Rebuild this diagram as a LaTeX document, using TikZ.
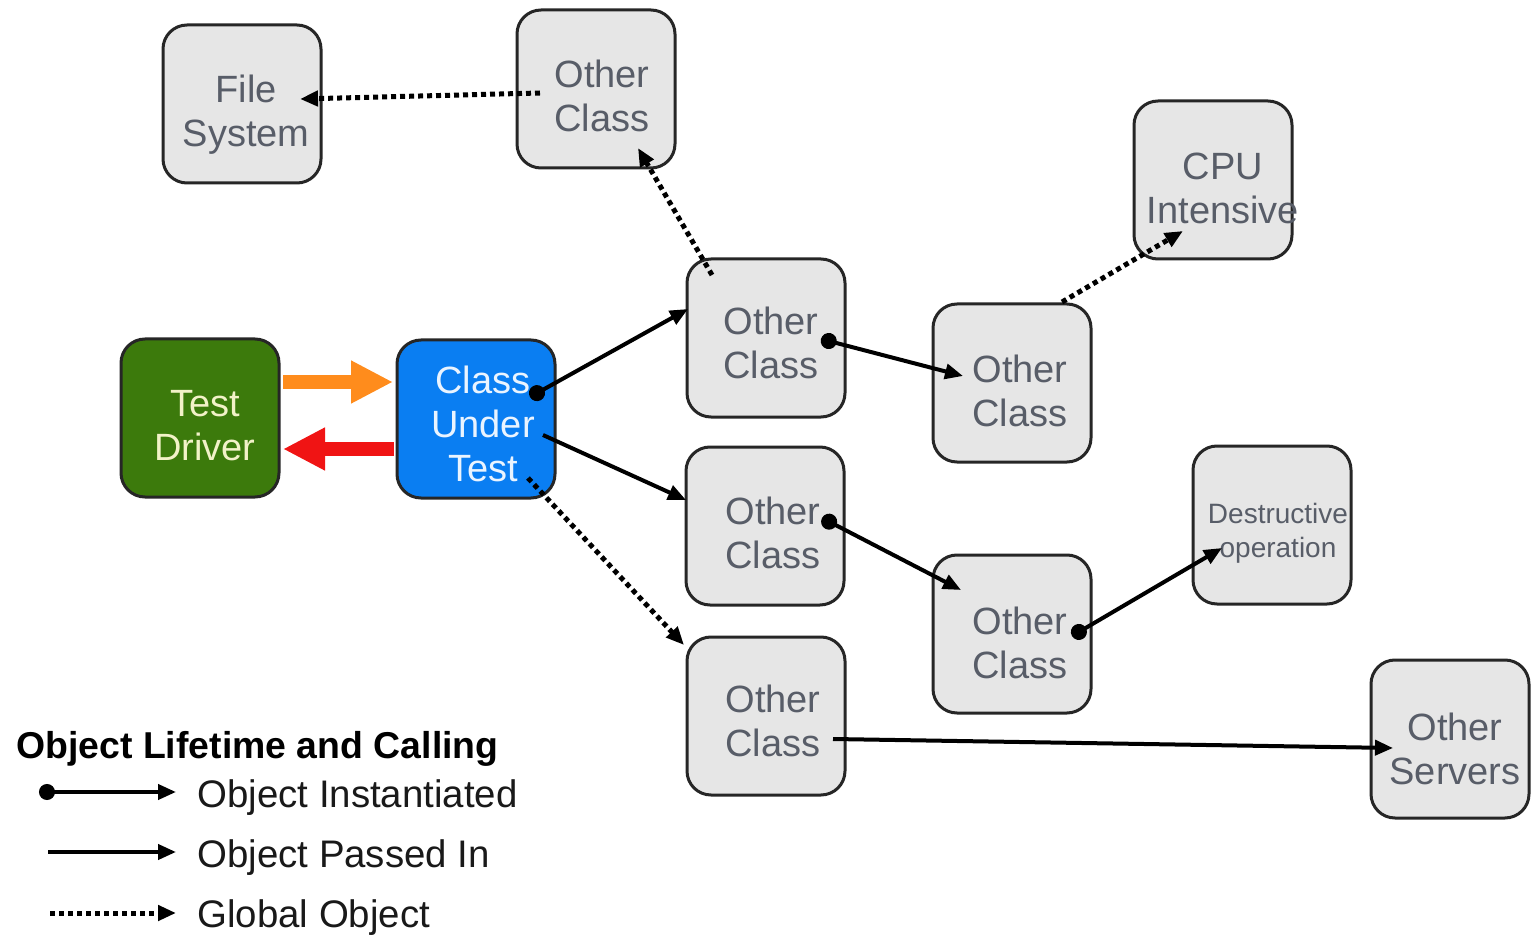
\documentclass[tikz,border=0pt]{standalone}
\usepackage{fontspec}
\setmainfont{Liberation Sans}
\usetikzlibrary{arrows.meta,calc}
\definecolor{boxgray}{HTML}{E6E6E6}
\definecolor{boxtext}{HTML}{585D68}
\definecolor{drivergreen}{HTML}{3C7A0C}
\definecolor{drivertext}{HTML}{F2F2C8}
\definecolor{cutblue}{HTML}{0A7EF2}
\definecolor{cuttext}{HTML}{EAF4FF}
\definecolor{callorange}{HTML}{FF8C1C}
\definecolor{returnred}{HTML}{F01414}
\begin{document}
\begin{tikzpicture}[x=0.5pt,y=-0.5pt,
  box/.style={draw=black!85, line width=1.5pt, rounded corners=12pt,
    minimum width=79pt, minimum height=79pt, inner sep=0pt},
  plain/.style={box, fill=boxgray},
  boxlabel/.style={inner sep=0pt, align=center, text=boxtext,
    font=\fontsize{19}{22}\selectfont},
  inst/.style={line width=2pt, {Circle[length=8pt]}-{Triangle[length=9pt,width=7.5pt]}},
  passed/.style={line width=2pt, -{Triangle[length=9pt,width=7.5pt]}},
  global/.style={line width=2.5pt, dash pattern=on 2.5pt off 2pt,
    -{Triangle[length=9pt,width=7.5pt]}},
  bigarrow/.style={line width=7pt, -{Triangle[length=21pt,width=20pt]}},
  legtext/.style={anchor=base west, inner sep=0pt, font=\fontsize{19.2}{22}\selectfont, text=black!90}
]
\useasboundingbox (0,0) rectangle (1532,936);

% boxes
\node[plain] (fs)  at (242,104) {};
\node[plain] (ot)  at (596,89)  {};
\node[plain] (cpu) at (1213,180) {};
\node[box, fill=drivergreen] (td) at (200,418) {};
\node[box, fill=cutblue] (cut) at (476,419) {};
\node[plain] (a)  at (766,338) {};
\node[plain] (b)  at (1012,383) {};
\node[plain] (c)  at (765,526) {};
\node[plain] (dop) at (1272,525) {};
\node[plain] (d)  at (1012,634) {};
\node[plain] (e)  at (766,716) {};
\node[plain] (os) at (1450,739) {};

% box captions
\node[boxlabel] (fs-t)  at ($(fs)+(4,11)$) {File\\System};
\node[boxlabel] (ot-t)  at ($(ot)+(6,7)$) {Other\\Class};
\node[boxlabel] (cpu-t) at ($(cpu)+(10,8)$) {CPU\\Intensive};
\node[boxlabel, text=drivertext] (td-t) at ($(td)+(5,8)$) {Test\\Driver};
\node[boxlabel, text=cuttext] (cut-t) at ($(cut)+(7,5)$) {Class\\Under\\Test};
\node[boxlabel] (a-t)  at ($(a)+(5,5)$) {Other\\Class};
\node[boxlabel] (b-t)  at ($(b)+(8,8)$) {Other\\Class};
\node[boxlabel] (c-t)  at ($(c)+(8,7)$) {Other\\Class};
\node[boxlabel, font=\fontsize{14}{17}\selectfont] (dop-t) at ($(dop)+(6,8)$) {Destructive\\operation};
\node[boxlabel] (d-t)  at ($(d)+(8,9)$) {Other\\Class};
\node[boxlabel] (e-t)  at ($(e)+(7,5)$) {Other\\Class};
\node[boxlabel] (os-t) at ($(os)+(5,10)$) {Other\\Servers};

% test driver calls and returns
\draw[bigarrow, callorange] ($(td)+(83,-36)$) -- ($(cut)+(-83,-37)$);
\draw[bigarrow, returnred] ($(cut)+(-82,30)$) -- ($(td)+(83,31)$);

% object connections
\draw[global] ($(ot)+(-56,4)$) -- ($(fs)+(58,-5)$);
\draw[global] ($(a)+(-54,-63)$) -- ($(ot)+(42,59)$);
\draw[inst]   ($(cut)+(54,-22)$) -- ($(a)+(-78,-29)$);
\draw[passed] ($(cut)+(67,16)$) -- ($(c)+(-79,-26)$);
\draw[global] ($(cut)+(52,59)$) -- ($(e)+(-82,-71)$);
\draw[inst]   ($(a)+(55,1)$) -- ($(b)+(-49,-7)$);
\draw[global] ($(b)+(50,-81)$) -- ($(cpu)+(-30,51)$);
\draw[inst]   ($(c)+(57,-8)$) -- ($(d)+(-51,-44)$);
\draw[inst]   ($(d)+(60,2)$) -- ($(dop)+(-50,23)$);
\draw[passed] ($(e)+(67,23)$) -- ($(os)+(-57,9)$);

% legend
\node[anchor=base west, inner sep=0pt, font=\bfseries\fontsize{18.7}{22}\selectfont, text=black] (legtitle)
  at (16,758) {Object Lifetime and Calling};
\coordinate (l1a) at (39,792);  \coordinate (l1b) at (176,792);
\coordinate (l2a) at (48,852);  \coordinate (l2b) at (176,852);
\coordinate (l3a) at (50,913);  \coordinate (l3b) at (176,913);
\draw[inst] (l1a) -- (l1b);
\draw[passed] (l2a) -- (l2b);
\draw[global] (l3a) -- (l3b);
\node[legtext] (leg1) at (197,807) {Object Instantiated};
\node[legtext] (leg2) at (197,867) {Object Passed In};
\node[legtext] (leg3) at (197,927) {Global Object};
\end{tikzpicture}
\end{document}
